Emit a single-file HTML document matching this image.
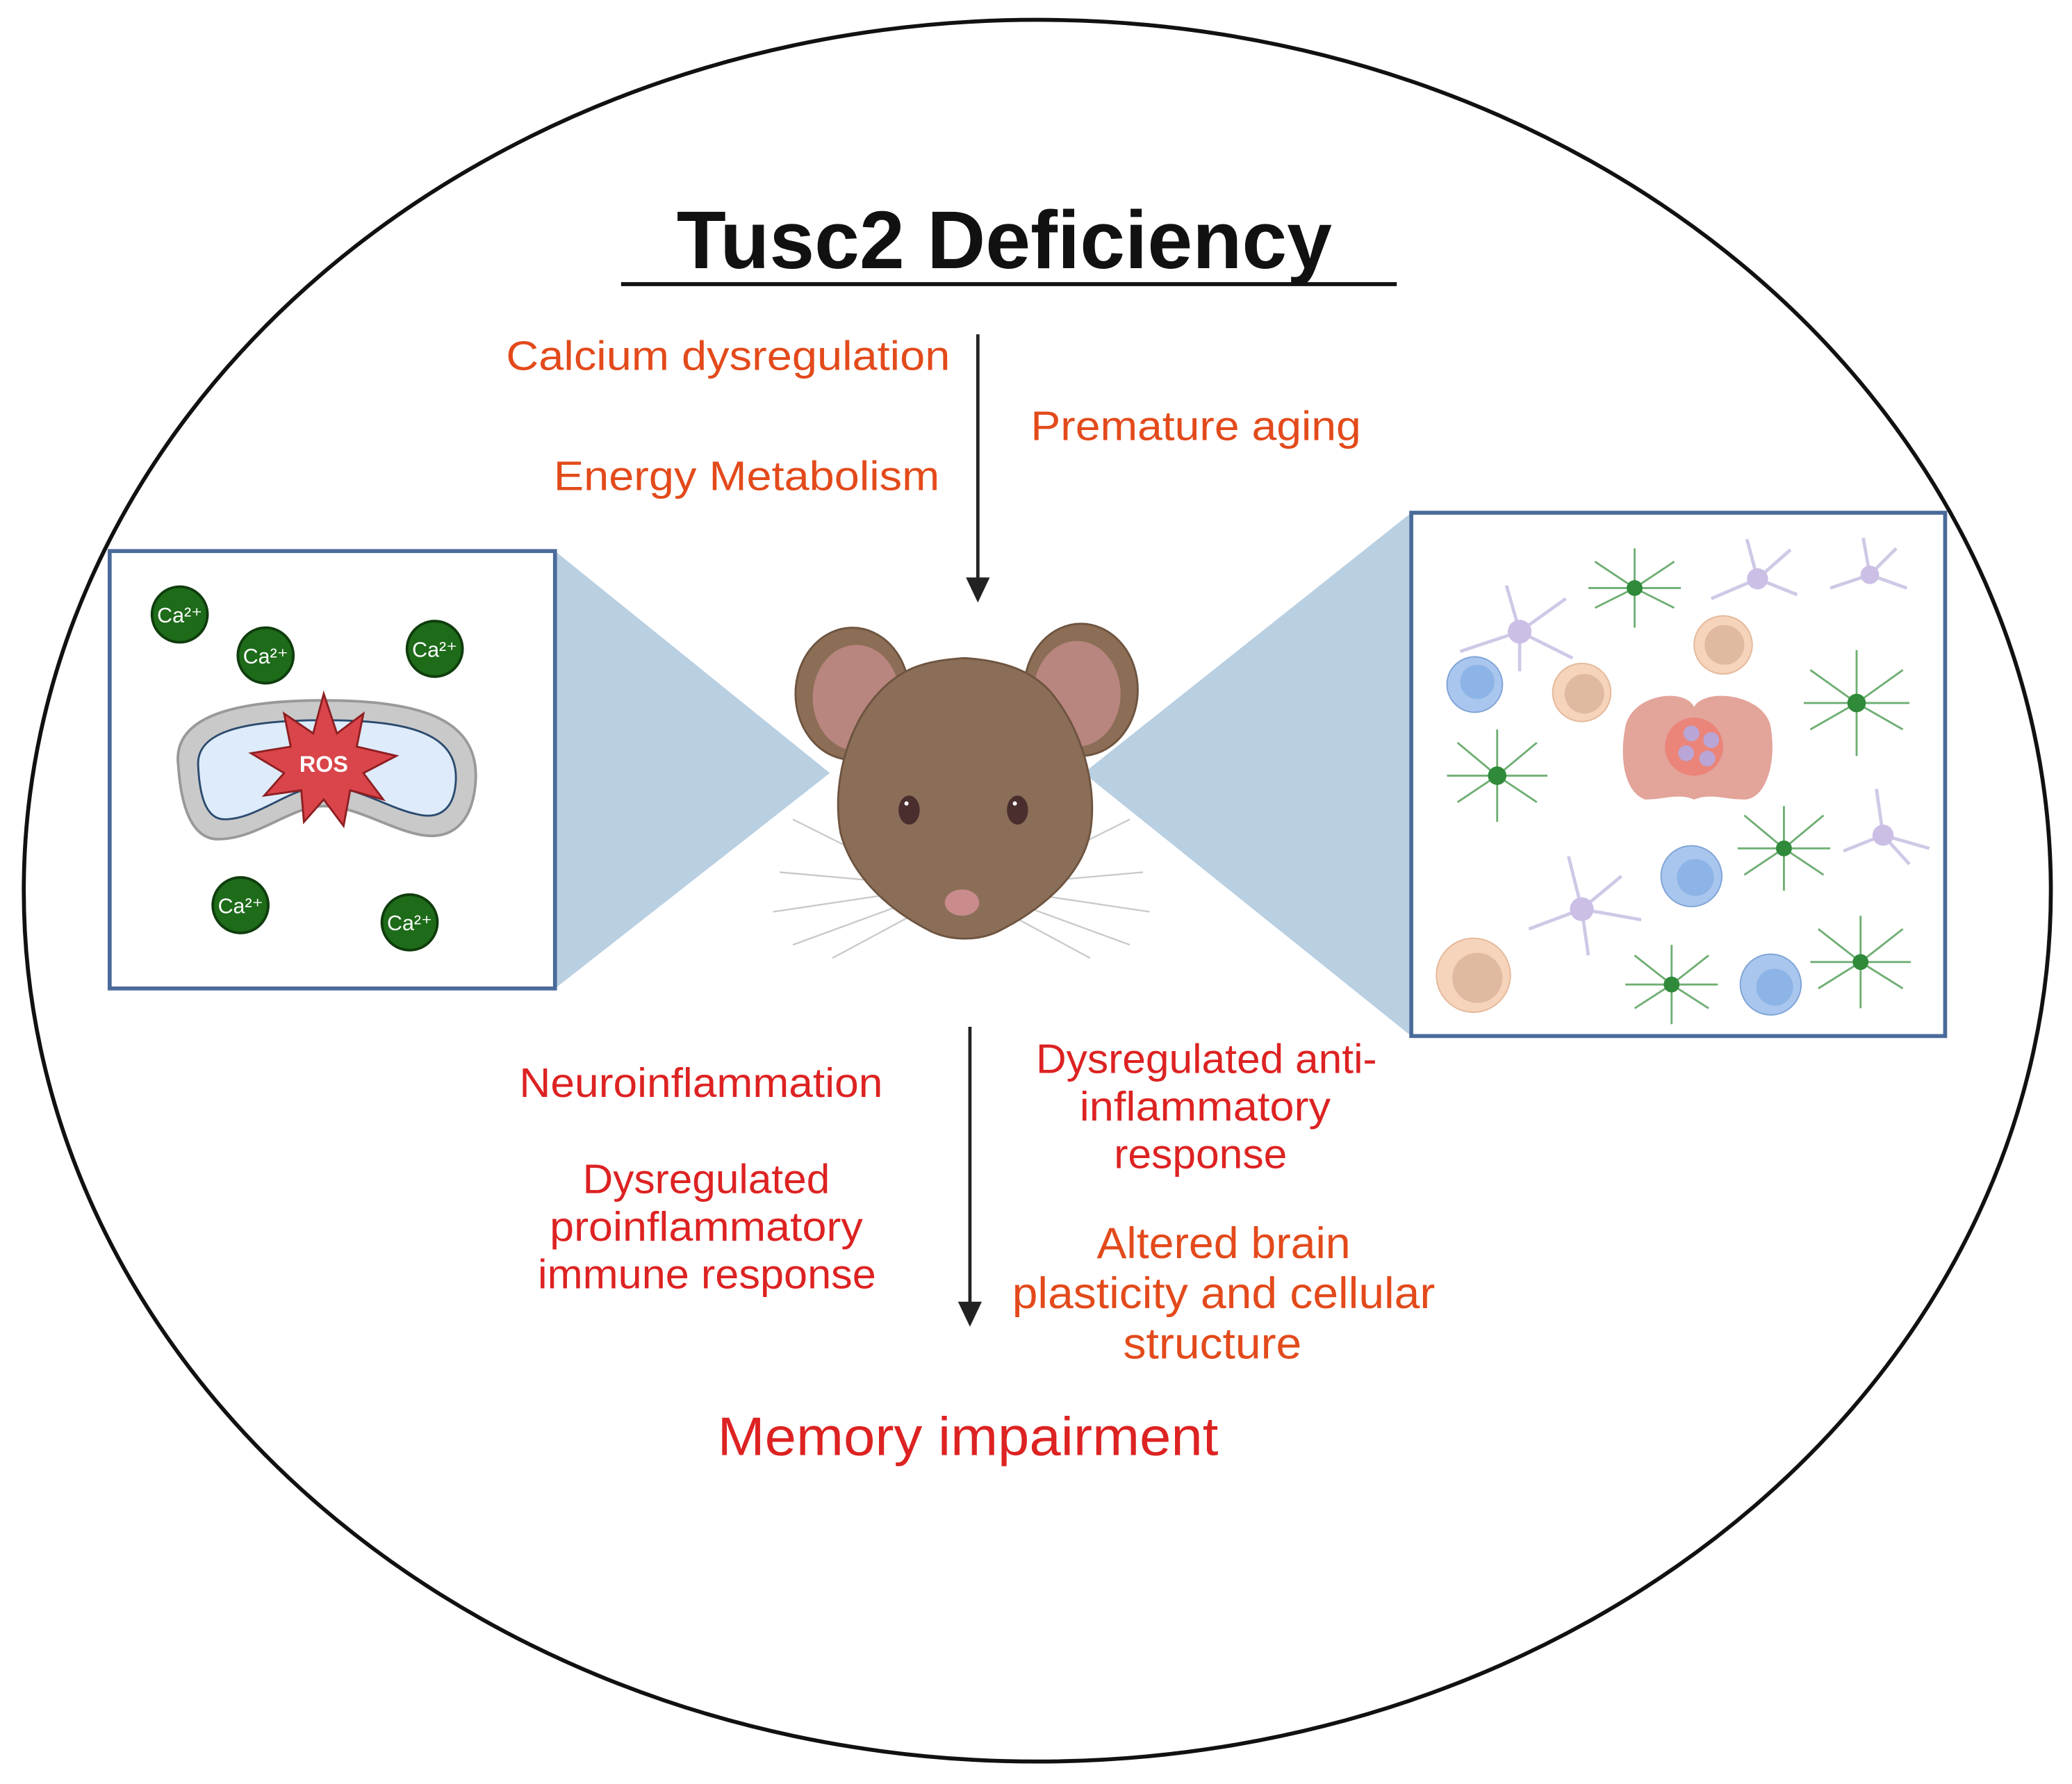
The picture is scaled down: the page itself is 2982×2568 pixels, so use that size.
<!DOCTYPE html>
<html><head><meta charset="utf-8"><style>html,body{margin:0;padding:0;background:#fff}svg{display:block}</style></head>
<body>
<svg width="2982" height="2568" viewBox="0 0 1568 1350" preserveAspectRatio="none" xmlns="http://www.w3.org/2000/svg" font-family="Liberation Sans, sans-serif">
<rect width="1568" height="1350" fill="#fff"/>
<ellipse cx="785" cy="674" rx="767" ry="659" fill="none" stroke="#111" stroke-width="3"/>
<!-- blue zoom triangles -->
<polygon points="420,417 420,748 628,585" fill="#b9cfe2"/>
<polygon points="1068,388 1068,784 820,585" fill="#b9cfe2"/>
<!-- left box -->
<rect x="83" y="417" width="337" height="331" fill="#fff" stroke="#4a6b9a" stroke-width="3"/>
<g font-size="16" fill="#fff" text-anchor="middle">
<circle cx="136" cy="465" r="21" fill="#1e6b1a" stroke="#0f3d0d" stroke-width="2"/><text x="136" y="471">Ca²⁺</text>
<circle cx="201" cy="496" r="21" fill="#1e6b1a" stroke="#0f3d0d" stroke-width="2"/><text x="201" y="502">Ca²⁺</text>
<circle cx="329" cy="491" r="21" fill="#1e6b1a" stroke="#0f3d0d" stroke-width="2"/><text x="329" y="497">Ca²⁺</text>
<circle cx="182" cy="685" r="21" fill="#1e6b1a" stroke="#0f3d0d" stroke-width="2"/><text x="182" y="691">Ca²⁺</text>
<circle cx="310" cy="698" r="21" fill="#1e6b1a" stroke="#0f3d0d" stroke-width="2"/><text x="310" y="704">Ca²⁺</text>
</g>
<!-- mitochondrion -->
<path d="M135,580 C130,545 170,530 245,530 C320,530 362,545 360,590 C358,625 340,635 320,632 C295,628 270,610 245,610 C220,610 195,635 165,635 C145,635 137,610 135,580 Z" fill="#c9c9c9" stroke="#999" stroke-width="2"/>
<path d="M150,580 C148,555 180,545 245,545 C310,545 346,555 345,590 C344,615 330,620 315,616 C295,612 270,595 245,595 C220,595 195,620 170,620 C155,620 151,600 150,580 Z" fill="#ddebfa" stroke="#2b4a6e" stroke-width="1.5"/>
<polygon points="245,525 255,555 275,540 270,565 300,572 275,585 290,605 265,598 260,625 245,605 230,622 228,598 200,602 215,585 190,570 220,565 215,540 237,555" fill="#d9454a" stroke="#8e1f22" stroke-width="1.5"/>
<text x="245" y="584" font-size="17" font-weight="bold" fill="#fff" text-anchor="middle">ROS</text>
<!-- mouse whiskers -->
<g stroke="#c8c8c8" stroke-width="1.2" fill="none">
<path d="M680,660 L600,620 M680,668 L590,660 M685,675 L585,690 M690,682 L600,715 M695,690 L630,725"/>
<path d="M775,660 L855,620 M775,668 L865,660 M770,675 L870,690 M765,682 L855,715 M760,690 L825,725"/>
</g>
<!-- mouse -->
<ellipse cx="645" cy="525" rx="43" ry="50" fill="#8b6e55" stroke="#6e5440" stroke-width="1.5"/>
<ellipse cx="648" cy="528" rx="33" ry="40" fill="#b8857f"/>
<ellipse cx="818" cy="522" rx="43" ry="50" fill="#8b6e55" stroke="#6e5440" stroke-width="1.5"/>
<ellipse cx="815" cy="525" rx="33" ry="40" fill="#b8857f"/>
<path d="M660,530 C680,505 700,500 730,498 C760,500 785,508 800,530 C822,560 830,600 825,630 C818,665 785,690 755,705 C740,712 720,712 705,705 C675,690 645,665 636,630 C630,595 640,555 660,530 Z" fill="#8b6e58" stroke="#6e5440" stroke-width="1.5"/>
<ellipse cx="688" cy="613" rx="8" ry="11" fill="#4a2e2e"/>
<ellipse cx="770" cy="613" rx="8" ry="11" fill="#4a2e2e"/>
<circle cx="686" cy="608" r="1.6" fill="#fff"/><circle cx="768" cy="608" r="1.6" fill="#fff"/>
<ellipse cx="728" cy="683" rx="13" ry="10" fill="#c98b8b"/>
<!-- right box -->
<rect x="1068" y="388" width="404" height="396" fill="#fff" stroke="#4a6b9a" stroke-width="3"/>
<g>
<circle cx="1116" cy="518" r="21" fill="#a9c6ee" stroke="#7ea3d6"/><circle cx="1118" cy="516" r="13" fill="#8db4e6"/>
<circle cx="1280" cy="663" r="23" fill="#a9c6ee" stroke="#7ea3d6"/><circle cx="1283" cy="664" r="14" fill="#8db4e6"/>
<circle cx="1340" cy="745" r="23" fill="#a9c6ee" stroke="#7ea3d6"/><circle cx="1343" cy="747" r="14" fill="#8db4e6"/>
<circle cx="1197" cy="524" r="22" fill="#f6d3bb" stroke="#e4b899"/><circle cx="1199" cy="525" r="15" fill="#e0b9a1"/>
<circle cx="1304" cy="488" r="22" fill="#f6d3bb" stroke="#e4b899"/><circle cx="1305" cy="488" r="15" fill="#e0b9a1"/>
<circle cx="1115" cy="738" r="28" fill="#f6d3bb" stroke="#e4b899"/><circle cx="1118" cy="740" r="19" fill="#e0b9a1"/>
<path d="M1230,550 C1235,525 1275,520 1282,535 C1290,520 1335,525 1340,550 C1345,580 1335,605 1320,605 C1305,605 1295,600 1282,605 C1270,600 1260,605 1245,605 C1230,600 1225,575 1230,550 Z" fill="#e3a49a"/>
<circle cx="1282" cy="565" r="22" fill="#f07064" opacity="0.6"/>
<g fill="#b9a6d6"><circle cx="1280" cy="555" r="6"/><circle cx="1295" cy="560" r="6"/><circle cx="1276" cy="570" r="6"/><circle cx="1292" cy="574" r="6"/></g>
<g stroke="#6fae73" stroke-width="1.5" fill="none">
<path d="M1237,445 l-30,-20 m30,20 l30,-20 m-30,20 l-30,15 m30,-15 l30,15 m-30,-15 l0,-30 m0,30 l0,30 m0,-30 l-35,0 m35,0 l35,0"/>
<path d="M1405,532 l-35,-25 m35,25 l35,-25 m-35,25 l-35,20 m35,-20 l35,20 m-35,-20 l0,-40 m0,40 l0,40 m0,-40 l-40,0 m40,0 l40,0"/>
<path d="M1133,587 l-30,-25 m30,25 l30,-25 m-30,25 l-30,20 m30,-20 l30,20 m-30,-20 l0,-35 m0,35 l0,35 m0,-35 l-38,0 m38,0 l38,0"/>
<path d="M1350,642 l-30,-25 m30,25 l30,-25 m-30,25 l-30,20 m30,-20 l30,20 m-30,-20 l0,-32 m0,32 l0,32 m0,-32 l-35,0 m35,0 l35,0"/>
<path d="M1265,745 l-28,-22 m28,22 l28,-22 m-28,22 l-28,18 m28,-18 l28,18 m-28,-18 l0,-30 m0,30 l0,30 m0,-30 l-35,0 m35,0 l35,0"/>
<path d="M1408,728 l-32,-25 m32,25 l32,-25 m-32,25 l-32,20 m32,-20 l32,20 m-32,-20 l0,-35 m0,35 l0,35 m0,-35 l-38,0 m38,0 l38,0"/>
</g>
<g fill="#2f8a3a"><circle cx="1237" cy="445" r="6"/><circle cx="1405" cy="532" r="7"/><circle cx="1133" cy="587" r="7"/><circle cx="1350" cy="642" r="6"/><circle cx="1265" cy="745" r="6"/><circle cx="1408" cy="728" r="6"/></g>
<g stroke="#cfc8e6" stroke-width="2.5" fill="none">
<path d="M1150,478 l-45,15 m45,-15 l40,20 m-40,-20 l-10,-35 m10,35 l35,-25 m-35,25 l0,30"/>
<path d="M1330,438 l-35,15 m35,-15 l30,12 m-30,-12 l-8,-30 m8,30 l25,-22"/>
<path d="M1415,435 l-30,10 m30,-10 l28,10 m-28,-10 l-5,-28 m5,28 l20,-20"/>
<path d="M1425,632 l-30,12 m30,-12 l35,10 m-35,-10 l-5,-35 m5,35 l20,22"/>
<path d="M1197,688 l-40,15 m40,-15 l45,8 m-45,-8 l-10,-40 m10,40 l30,-25 m-30,25 l5,35"/>
</g>
<g fill="#cbbfe6"><circle cx="1150" cy="478" r="9"/><circle cx="1330" cy="438" r="8"/><circle cx="1415" cy="435" r="7"/><circle cx="1425" cy="632" r="8"/><circle cx="1197" cy="688" r="9"/></g>
</g>
<!-- title -->
<text x="512" y="203" font-size="62" font-weight="bold" fill="#111" textLength="496" lengthAdjust="spacingAndGlyphs">Tusc2 Deficiency</text>
<line x1="470" y1="215" x2="1057" y2="215" stroke="#111" stroke-width="3"/>
<!-- arrows -->
<line x1="740" y1="253" x2="740" y2="440" stroke="#222" stroke-width="2.5"/>
<polygon points="731,437 749,437 740,456" fill="#222"/>
<line x1="734" y1="777" x2="734" y2="988" stroke="#222" stroke-width="2.5"/>
<polygon points="725,985 743,985 734,1004" fill="#222"/>
<!-- orange labels -->
<g fill="#e34a1b" font-size="31" lengthAdjust="spacingAndGlyphs">
<text x="383" y="280" textLength="336" lengthAdjust="spacingAndGlyphs">Calcium dysregulation</text>
<text x="419" y="371" textLength="292" lengthAdjust="spacingAndGlyphs">Energy Metabolism</text>
<text x="780" y="333" textLength="250" lengthAdjust="spacingAndGlyphs">Premature aging</text>
</g>
<!-- red labels -->
<g fill="#dd2222" font-size="31">
<text x="393" y="830" textLength="275" lengthAdjust="spacingAndGlyphs">Neuroinflammation</text>
<text x="441" y="903" textLength="187" lengthAdjust="spacingAndGlyphs">Dysregulated</text>
<text x="416" y="939" textLength="237" lengthAdjust="spacingAndGlyphs">proinflammatory</text>
<text x="407" y="975" textLength="256" lengthAdjust="spacingAndGlyphs">immune response</text>
<text x="784" y="812" textLength="258" lengthAdjust="spacingAndGlyphs">Dysregulated anti-</text>
<text x="817" y="848" textLength="190" lengthAdjust="spacingAndGlyphs">inflammatory</text>
<text x="843" y="884" textLength="131" lengthAdjust="spacingAndGlyphs">response</text>
</g>
<g fill="#e34a1b" font-size="33">
<text x="830" y="952" textLength="192" lengthAdjust="spacingAndGlyphs">Altered brain</text>
<text x="766" y="990" textLength="320" lengthAdjust="spacingAndGlyphs">plasticity and cellular</text>
<text x="850" y="1028" textLength="135" lengthAdjust="spacingAndGlyphs">structure</text>
</g>
<text x="543" y="1101" font-size="41" fill="#dd2222" textLength="379" lengthAdjust="spacingAndGlyphs">Memory impairment</text>
</svg>
</body></html>
